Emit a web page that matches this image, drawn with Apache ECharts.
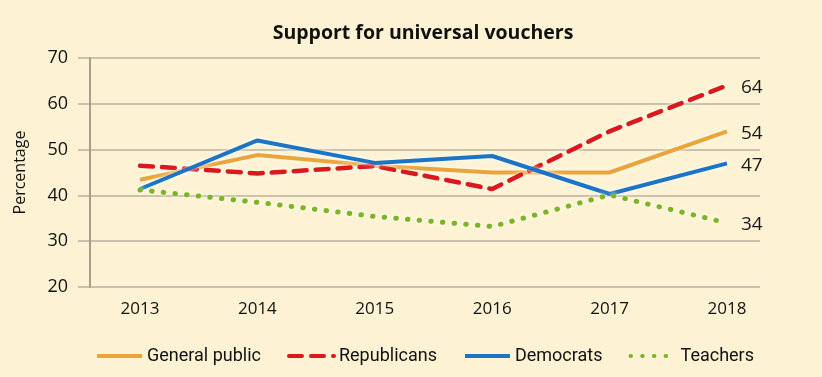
<!DOCTYPE html>
<html>
<head>
<meta charset="utf-8">
<script src="https://cdn.jsdelivr.net/npm/echarts@6/dist/echarts.min.js"></script>
<style>
  html, body { margin: 0; padding: 0; background: #fdf3d4; }
  #chart { width: 822px; height: 377px; }
</style>
</head>
<body>
<div id="chart"></div>
<script>
// data
const years = [2013, 2014, 2015, 2016, 2017, 2018]
const generalPublic = [43.4, 48.8, 46.5, 45, 45, 54]
const republicans = [46.5, 44.8, 46.4, 41.4, 54, 64]
const democrats = [41.4, 52, 47.1, 48.6, 40.3, 47]
const teachers = [41.2, 38.5, 35.4, 33.2, 40.1, 34]

const pairs = (vals) => years.map((y, i) => [y, vals[i]])

const halo = {
  shadowColor: 'rgba(255,255,255,0.95)',
  shadowBlur: 4
}

const makeSeries = (name, vals, color, type, width) => {
  return {
    name: name,
    type: 'line',
    data: pairs(vals),
    symbol: 'none',
    lineStyle: Object.assign({ color: color, width: width, type: type, cap: type === 'solid' ? 'butt' : 'round' }, halo),
    itemStyle: { color: color },
    endLabel: {
      show: true,
      distance: 14,
      offset: [0, 2],
      formatter: (p) => p.value[1],
      fontFamily: 'Open Sans',
      fontSize: 19,
      color: '#1a1a1a'
    },
    emphasis: { disabled: true }
  }
}

const chart = echarts.init(document.getElementById('chart'))

chart.setOption({
  backgroundColor: '#fdf3d4',
  animation: false,
  title: {
    text: 'Support for universal vouchers',
    top: 18,
    left: 418,
    textAlign: 'center',
    textStyle: { fontFamily: 'Open Sans', fontWeight: 'bold', fontSize: 19.5, color: '#111' }
  },
  legend: {
    left: 90,
    top: 342,
    itemWidth: 45,
    itemHeight: 14,
    itemGap: 26,
    itemStyle: { opacity: 0 },
    lineStyle: { width: 4, shadowBlur: 0 },
    textStyle: { fontFamily: 'Roboto', fontSize: 18, color: '#111' },
    data: ['General public', 'Republicans', 'Democrats', 'Teachers']
  },
  grid: { left: 78, right: 62, top: 58, bottom: 90 },
  xAxis: {
    type: 'value',
    min: 2012.472,
    max: 2018.281,
    axisLine: { show: false },
    axisTick: { show: false },
    splitLine: { show: false },
    axisLabel: {
      customValues: years,
      formatter: (v) => String(v),
      margin: 14,
      fontFamily: 'Open Sans',
      fontSize: 17,
      color: '#111'
    }
  },
  yAxis: {
    type: 'value',
    min: 20,
    max: 70,
    interval: 10,
    offset: -12,
    name: 'Percentage',
    nameLocation: 'middle',
    nameGap: 62,
    nameTextStyle: { fontFamily: 'Open Sans', fontSize: 16, color: '#111' },
    axisLine: { show: true, lineStyle: { color: '#a79f8e', width: 2 } },
    axisTick: { show: false },
    axisLabel: {
      margin: 22,
      fontFamily: 'Open Sans',
      fontSize: 18,
      color: '#111'
    },
    splitLine: { lineStyle: { color: '#b9b19f', width: 1.5 } }
  },
  series: [
    makeSeries('General public', generalPublic, '#eaa43a', 'solid', 4),
    makeSeries('Republicans', republicans, '#d9191c', [13, 9], 4.5),
    makeSeries('Democrats', democrats, '#1b74c6', 'solid', 4),
    makeSeries('Teachers', teachers, '#7bb427', [0.5, 11.2], 5)
  ]
})
</script>
</body>
</html>
